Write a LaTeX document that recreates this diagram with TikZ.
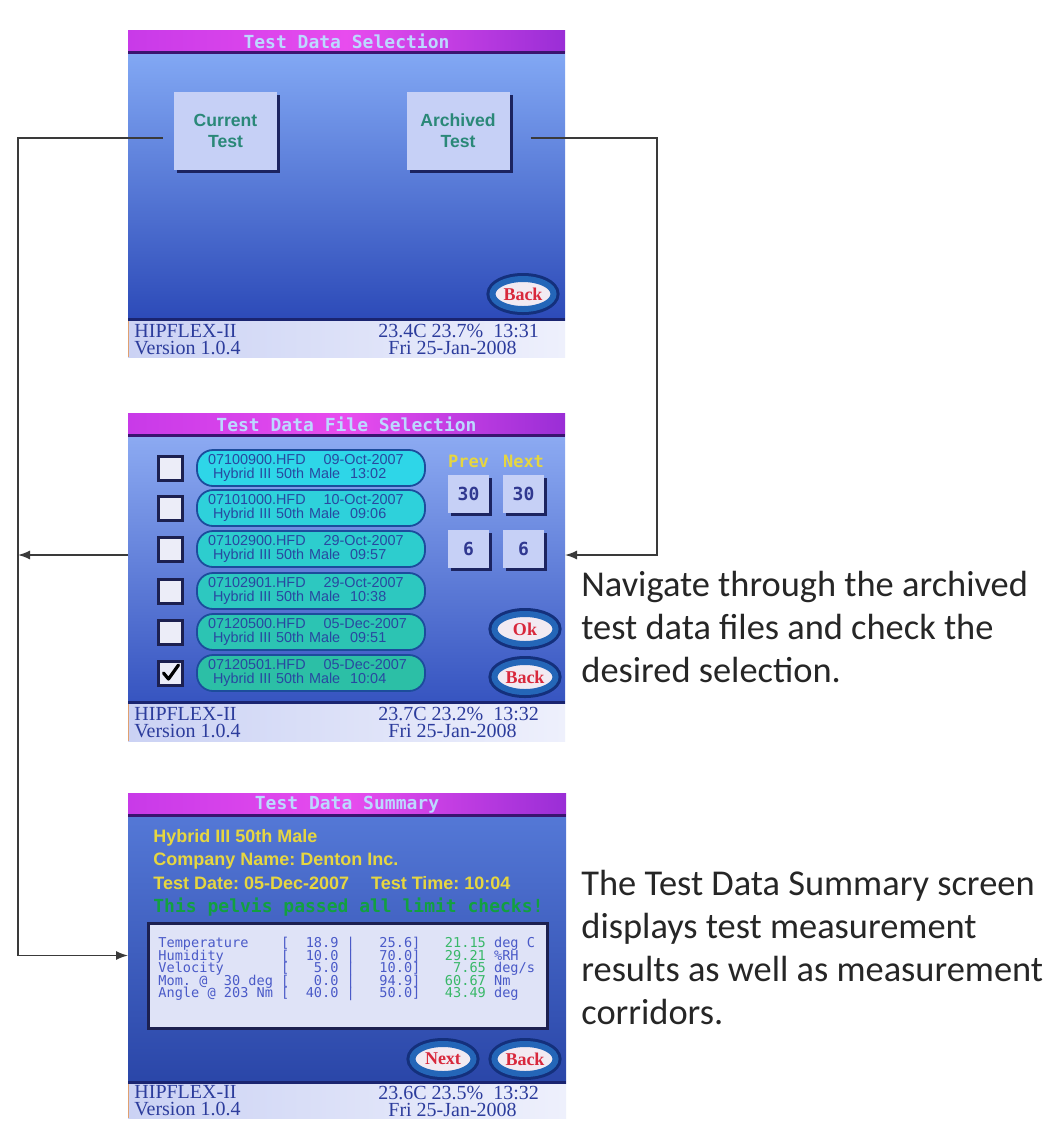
\documentclass[tikz,border=0pt]{standalone}
\usepackage{fontspec}
\setmainfont{Liberation Sans}
\newfontfamily\calib{Carlito}
\newfontfamily\monof{DejaVu Sans Mono}[BoldFont={DejaVu Sans Mono Bold}]
\newfontfamily\serf{Liberation Serif}
\usetikzlibrary{arrows.meta,shapes.geometric,shadows,calc}
\frenchspacing
\definecolor{magL}{HTML}{C83AE8}
\definecolor{magM}{HTML}{E84CEE}
\definecolor{magR}{HTML}{9A2ED6}
\definecolor{ttlline}{HTML}{3A1470}
\definecolor{ttlc}{HTML}{BCD8FF}
\definecolor{navyl}{HTML}{1A2470}
\definecolor{stL}{HTML}{CBD2F4}
\definecolor{stR}{HTML}{EEF0FC}
\definecolor{stc}{HTML}{2C3C9C}
\definecolor{orl}{HTML}{E0A070}
\definecolor{btnf}{HTML}{C6D0F6}
\definecolor{btnsh}{HTML}{1C2460}
\definecolor{btnt}{HTML}{2A8878}
\definecolor{ovf}{HTML}{F2EAF2}
\definecolor{ovring}{HTML}{2466B8}
\definecolor{ovdark}{HTML}{14307C}
\definecolor{ovt}{HTML}{D8283C}
\definecolor{pillA}{HTML}{2ED6E8}
\definecolor{pillB}{HTML}{2CBFA6}
\definecolor{pillD}{HTML}{1C4C9C}
\definecolor{filet}{HTML}{2848A0}
\definecolor{cbf}{HTML}{ECEDF8}
\definecolor{cbd}{HTML}{1C2050}
\definecolor{yel}{HTML}{E6D640}
\definecolor{grn}{HTML}{12A040}
\definecolor{tblf}{HTML}{DFE3F7}
\definecolor{tblb}{HTML}{4A5AC8}
\definecolor{tblg}{HTML}{38B868}
\definecolor{btntwo}{HTML}{303890}
\definecolor{connc}{HTML}{3A3A3A}
\definecolor{desct}{HTML}{262626}
\definecolor{bAt}{HTML}{82A8F4}
\definecolor{bAb}{HTML}{2C4AB8}
\definecolor{bBt}{HTML}{8CAAF2}
\definecolor{bBb}{HTML}{3654C0}
\definecolor{bCt}{HTML}{5478D6}
\definecolor{bCb}{HTML}{2A46A8}
\begin{document}
\begin{tikzpicture}[x=0.5pt,y=-0.5pt,
  scr/.style={rectangle,inner sep=0pt,outer sep=0pt},
  ttl/.style={font=\monof\bfseries\fontsize{9}{9}\selectfont,text=ttlc,inner sep=0pt},
  stat/.style={font=\serf\fontsize{10}{8.5}\selectfont,text=stc,align=left,inner sep=0pt,anchor=west},
  btn/.style={rectangle,fill=btnf,inner sep=0pt,drop shadow={shadow xshift=1.5pt,shadow yshift=-1.5pt,fill=btnsh,opacity=1}},
  bigbtn/.style={btn,minimum width=51.5pt,minimum height=39pt,font=\bfseries\fontsize{8.8}{10.5}\selectfont,text=btnt,align=center},
  smbtn/.style={btn,minimum width=20.5pt,minimum height=19pt,font=\monof\bfseries\fontsize{9}{9}\selectfont,text=btntwo},
  ovbtn/.style={ellipse,minimum width=30.5pt,minimum height=15pt,inner sep=0pt,fill=ovf,draw=ovring,line width=3pt,preaction={draw=ovdark,line width=6pt},font=\serf\bfseries\fontsize{9}{9}\selectfont,text=ovt},
  pill/.style={rectangle,rounded corners=8pt,draw=pillD,line width=0.9pt,minimum width=114pt,minimum height=18pt,text width=103pt,inner xsep=5.5pt,inner ysep=0pt,align=left,font=\fontsize{7.2}{7}\selectfont,text=filet},
  cbox/.style={rectangle,minimum size=12pt,inner sep=0pt,fill=cbf,draw=cbd,line width=1.5pt},
  pn/.style={font=\monof\bfseries\fontsize{8.5}{8.5}\selectfont,text=yel,inner sep=0pt},
  ylw/.style={font=\bfseries\fontsize{9}{9}\selectfont,text=yel,inner sep=0pt,anchor=west},
  grnl/.style={font=\monof\bfseries\fontsize{9}{9}\selectfont,text=grn,inner sep=0pt,anchor=west},
  dbox/.style={rectangle,minimum width=199.5pt,minimum height=52.5pt,fill=tblf,draw=cbd,line width=1.5pt,inner sep=0pt},
  trow/.style={font=\monof\fontsize{6.8}{6.8}\selectfont,text=tblb,inner sep=0pt,anchor=west},
  desc/.style={font=\calib\fontsize{18.2}{21.5}\selectfont,text=desct,align=left,inner sep=0pt,anchor=north west},
  conn/.style={draw=connc,line width=0.75pt,-{Latex[length=6pt,width=4.5pt]}},
  chk/.style={draw=black,line width=1.6pt,line cap=round,line join=round}
]
\useasboundingbox (0,0) rectangle (1058,1126);
\fill[white] (0,0) rectangle (1058,1126);

% ---------------- Screen 1 ----------------
\node[scr,minimum width=218.5pt,minimum height=163.5pt] (s1) at (346.5,193.5) {};
\shade[top color=bAt,bottom color=bAb] (128,53) rectangle (565,320);
\shade[left color=magL,right color=magR,middle color=magM] (128,30) rectangle (565,52);
\fill[ttlline] (128,51) rectangle (565,54);
\fill[navyl] (128,318) rectangle (565,321);
\shade[left color=stL,right color=stR] (128,321) rectangle (565,357);
\draw[orl,line width=0.8pt] (128.5,321) -- (128.5,357);
\node[ttl] (t1) at (346.5,41) {Test Data Selection};
\node[bigbtn] (cur) at (225.5,131) {Current\\Test};
\node[bigbtn] (arch) at (458,131) {Archived\\Test};
\node[ovbtn] (bk1) at (523,294) {Back};
\node[stat] (st1l) at (134,339.5) {HIPFLEX-II\\Version 1.0.4};
\node[stat] (st1r) at (378,339.5) {23.4C 23.7\%~~13:31\\\hspace*{5pt}Fri 25-Jan-2008};

% ---------------- Screen 2 ----------------
\node[scr,minimum width=218.5pt,minimum height=164pt] (s2) at (346.5,577) {};
\shade[top color=bBt,bottom color=bBb] (128,436) rectangle (565,703);
\shade[left color=magL,right color=magR,middle color=magM] (128,413) rectangle (565,435);
\fill[ttlline] (128,434) rectangle (565,437);
\fill[navyl] (128,701) rectangle (565,704);
\shade[left color=stL,right color=stR] (128,704) rectangle (565,741);
\draw[orl,line width=0.8pt] (128.5,704) -- (128.5,741);
\node[ttl] (t2) at (346.5,424.5) {Test Data File Selection};
\foreach \i/\y/\id/\dt/\tm/\p in {1/468/07100900/09-Oct-2007/13:02/100,2/508/07101000/10-Oct-2007/09:06/80,3/549/07102900/29-Oct-2007/09:57/60,4/591/07102901/29-Oct-2007/10:38/40,5/632/07120500/05-Dec-2007/09:51/20,6/673/07120501/05-Dec-2007/10:04/0}{
  \node[cbox] (cb\i) at (170.5,\y) {};
  \node[pill,fill=pillA!\p!pillB] (f\i) at (311,\y) {\id.HFD\hspace{9pt}\dt\\\hspace*{2.5pt}Hybrid III 50th Male\hspace{5pt}\tm};
}
\draw[chk] ($(cb6.center)+(-7,0)$) -- ++(5,6) -- ++(10,-14);
\node[pn] (prevl) at (468.5,461) {Prev};
\node[pn] (nextl) at (523.5,461) {Next};
\node[smbtn] (p30) at (468.5,494) {30};
\node[smbtn] (n30) at (523.5,494) {30};
\node[smbtn] (p6) at (468.5,549) {6};
\node[smbtn] (n6) at (523.5,549) {6};
\node[ovbtn] (okb) at (525,629) {Ok};
\node[ovbtn] (bk2) at (525,677) {Back};
\node[stat] (st2l) at (134,722.5) {HIPFLEX-II\\Version 1.0.4};
\node[stat] (st2r) at (378,722.5) {23.7C 23.2\%~~13:32\\\hspace*{5pt}Fri 25-Jan-2008};

% ---------------- Screen 3 ----------------
\node[scr,minimum width=219pt,minimum height=162.5pt] (s3) at (347,955.5) {};
\shade[top color=bCt,bottom color=bCb] (128,816) rectangle (566,1083);
\shade[left color=magL,right color=magR,middle color=magM] (128,793) rectangle (566,815);
\fill[ttlline] (128,814) rectangle (566,817);
\fill[navyl] (128,1081) rectangle (566,1084);
\shade[left color=stL,right color=stR] (128,1084) rectangle (566,1118);
\draw[orl,line width=0.8pt] (128.5,1084) -- (128.5,1118);
\node[ttl] (t3) at (347,804.5) {Test Data Summary};
\node[ylw] (y1) at (153,838) {Hybrid III 50th Male};
\node[ylw] (y2) at (153,861) {Company Name: Denton Inc.};
\node[ylw] (y3) at (153,883) {Test Date: 05-Dec-2007\hspace{11pt}Test Time: 10:04};
\node[grnl] (g1) at (153,907) {This pelvis passed all limit checks!};
\node[dbox] (tbl) at (347.5,975.5) {};
\node[trow] (r1) at (158,944) {Temperature~~~~[~~18.9~|~~~25.6]~~~\textcolor{tblg}{21.15}~deg~C};
\node[trow] (r2) at (158,956.5) {Humidity~~~~~~~[~~10.0~|~~~70.0]~~~\textcolor{tblg}{29.21}~\%RH};
\node[trow] (r3) at (158,969) {Velocity~~~~~~~[~~~5.0~|~~~10.0]~~~~\textcolor{tblg}{7.65}~deg/s};
\node[trow] (r4) at (158,981.5) {Mom.~@~~30~deg~[~~~0.0~|~~~94.9]~~~\textcolor{tblg}{60.67}~Nm};
\node[trow] (r5) at (158,994) {Angle~@~203~Nm~[~~40.0~|~~~50.0]~~~\textcolor{tblg}{43.49}~deg};
\node[ovbtn] (nxb) at (443,1059) {Next};
\node[ovbtn] (bk3) at (525,1059) {Back};
\node[stat] (st3l) at (134,1101) {HIPFLEX-II\\Version 1.0.4};
\node[stat] (st3r) at (378,1101) {23.6C 23.5\%~~13:32\\\hspace*{5pt}Fri 25-Jan-2008};

% ---------------- Descriptions ----------------
\node[desc] (d1) at (581,571) {Navigate through the archived\\test data files and check the\\desired selection.};
\node[desc] (d2) at (581,870) {The Test Data Summary screen\\displays test measurement\\results as well as measurement\\corridors.};

% ---------------- Connectors ----------------
\coordinate (spineL) at (18,0);
\coordinate (spineR) at (657,0);
\coordinate (curout) at ([shift={(-11,7)}]cur.west);
\coordinate (archout) at ([shift={(21,7)}]arch.east);
\coordinate (s2l) at ([yshift=11pt]s2.west);
\coordinate (s2r) at ([yshift=11pt]s2.east);
\draw[conn] (curout) -| (spineL |- s3.west) -- (s3.west);
\draw[conn] (s2l) -- (spineL |- s2l);
\draw[conn] (archout) -| (spineR |- s2r) -- (s2r);
\end{tikzpicture}
\end{document}
